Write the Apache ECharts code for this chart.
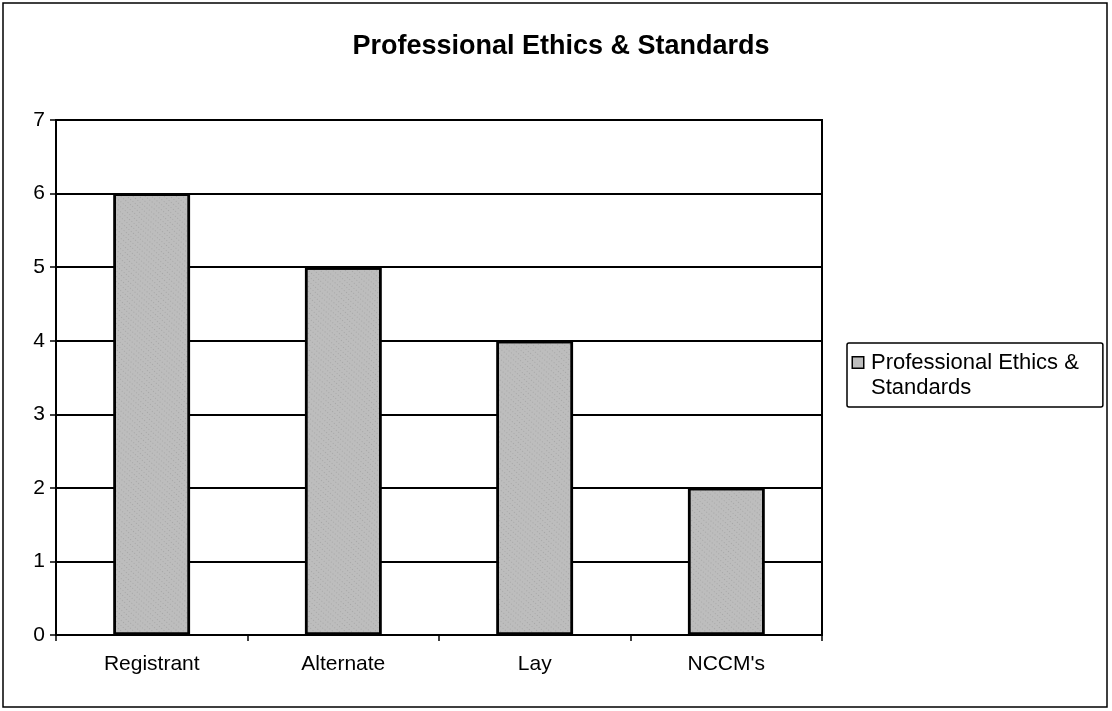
<!DOCTYPE html>
<html>
<head>
<meta charset="utf-8">
<script src="https://cdn.jsdelivr.net/npm/echarts@6/dist/echarts.min.js"></script>
<style>
  html, body { margin: 0; padding: 0; background: #fff; }
  #chart { width: 1112px; height: 711px; }
</style>
</head>
<body>
<div id="chart"></div>
<script>
const categories = ['Registrant', 'Alternate', 'Lay', "NCCM's"];
const values = [6, 5, 4, 2];
const seriesName = 'Professional Ethics & Standards';
const yTicks = [0, 1, 2, 3, 4, 5, 6, 7];

const chart = echarts.init(document.getElementById('chart'));
const font = '"Liberation Sans", Arial, sans-serif';
const barFill = '#bdbdbd';

const option = {
    backgroundColor: '#fff',
    textStyle: { fontFamily: font },
    title: {
        text: 'Professional Ethics & Standards',
        left: 556,
        textAlign: 'center',
        top: 28,
        textStyle: { fontSize: 27, fontWeight: 'bold', color: '#000', fontFamily: font }
    },
    graphic: [{
        type: 'rect',
        shape: { x: 3, y: 3, width: 1104, height: 704 },
        style: { fill: 'none', stroke: '#000', lineWidth: 1.5 },
        silent: true
    }],
    legend: {
        orient: 'vertical',
        left: 847,
        top: 343,
        borderColor: '#000',
        borderWidth: 1.5,
        borderRadius: 2,
        padding: [7, 24, 7, 0],
        icon: 'rect',
        itemWidth: 0,
        itemHeight: 0,
        data: [seriesName],
        formatter: function () {
            return '{box|}{gap|}Professional Ethics &\n{sp|}Standards';
        },
        textStyle: {
            fontSize: 22, lineHeight: 25, color: '#000', fontFamily: font,
            rich: {
                box: { width: 10, height: 10, backgroundColor: barFill, borderColor: '#000', borderWidth: 1.5 },
                gap: { width: 8 },
                sp: { width: 18 }
            }
        }
    },
    grid: {
        left: 56,
        right: 290,
        top: 120,
        bottom: 76,
        show: true,
        borderColor: '#000',
        borderWidth: 2,
        backgroundColor: '#fff'
    },
    xAxis: {
        type: 'category',
        data: categories,
        axisLine: { lineStyle: { color: '#000', width: 2 } },
        axisTick: { show: true, alignWithLabel: false, length: 6, lineStyle: { color: '#000', width: 1.5 } },
        axisLabel: { color: '#000', fontSize: 21, margin: 19, fontFamily: font }
    },
    yAxis: {
        type: 'value',
        min: 0,
        max: 7,
        interval: 1,
        axisLine: { show: true, lineStyle: { color: '#000', width: 2 } },
        axisTick: { show: true, length: 6, lineStyle: { color: '#000', width: 1.5 } },
        axisLabel: {
            color: '#000', fontSize: 21, margin: 11, fontFamily: font,
            formatter: function (v) { return yTicks.indexOf(v) >= 0 ? String(v) : ''; }
        },
        splitLine: { show: true, lineStyle: { color: '#000', width: 2 } }
    },
    series: [{
        name: seriesName,
        type: 'bar',
        data: values,
        barWidth: '40%',
        itemStyle: {
            color: barFill,
            borderColor: '#000',
            borderWidth: 2.5,
            decal: {
                symbol: 'rect',
                symbolSize: 0.6,
                dashArrayX: [1, 2],
                dashArrayY: [1, 3],
                rotation: 0.7,
                color: 'rgba(0,0,0,0.4)'
            }
        }
    }]
};

chart.setOption(option);
window.addEventListener('resize', function () {
    chart.resize();
});
</script>
</body>
</html>
